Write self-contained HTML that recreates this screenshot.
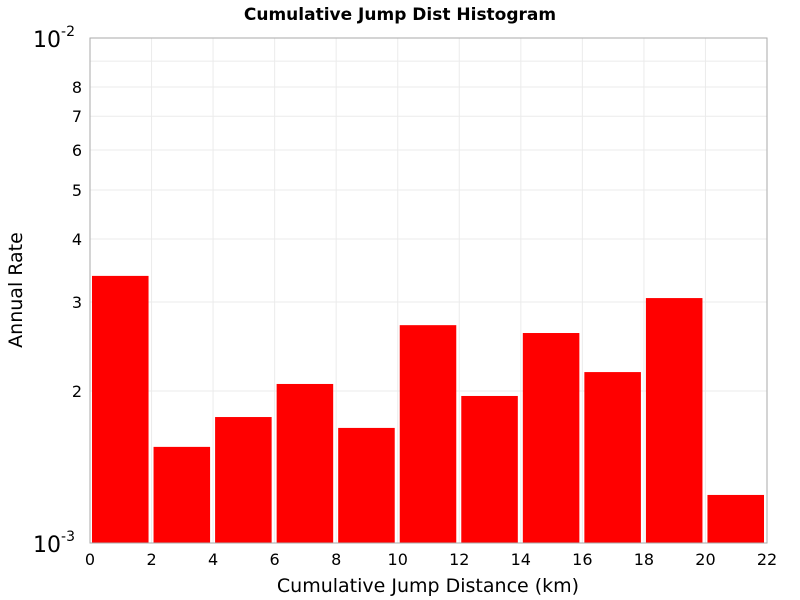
<!DOCTYPE html>
<html><head><meta charset="utf-8"><style>body{margin:0;background:#fff}svg{display:block}text{font-family:"DejaVu Sans","Liberation Sans",sans-serif}</style></head>
<body>
<svg id="chart" width="800" height="600">
<rect x="0" y="0" width="800" height="600" fill="#fff"/>
<text x="400" y="20" text-anchor="middle" font-size="17" font-weight="bold">Cumulative Jump Dist Histogram</text>
<text x="428" y="592" text-anchor="middle" font-size="19">Cumulative Jump Distance (km)</text>
<text transform="translate(22,290) rotate(-90)" text-anchor="middle" font-size="19">Annual Rate</text>
<g id="grid"></g><g id="bars"></g><g id="axes"></g>
</svg>
<script>
const binStarts=[0,2,4,6,8,10,12,14,16,18,20];
const binWidth=2;
const rates=[3.38e-3,1.55e-3,1.776e-3,2.065e-3,1.69e-3,2.70e-3,1.955e-3,2.605e-3,2.18e-3,3.055e-3,1.245e-3];
const xTicks=[0,2,4,6,8,10,12,14,16,18,20,22];
const yMinor=[2,3,4,5,6,7,8,9];
const yMinorLabels=["2","3","4","5","6","7","8",""];
const L=90,R=767,T=38,B=543;
const ns="http://www.w3.org/2000/svg";
const xs=v=>L+(v-0)/(22-0)*(R-L);
const ys=v=>B-(Math.log10(v)+3)*(B-T);
function mk(tag,attrs,parent,text){const e=document.createElementNS(ns,tag);for(const k in attrs)e.setAttribute(k,attrs[k]);if(text!==undefined)e.textContent=text;parent.appendChild(e);return e;}
const grid=document.getElementById('grid'),bars=document.getElementById('bars'),axes=document.getElementById('axes');
xTicks.forEach(t=>{const g=mk('line',{x1:xs(t),x2:xs(t),y1:T,y2:B,stroke:'#ebebeb'},grid);


const tl=mk('text',{x:xs(t),y:B+22,'text-anchor':'middle','font-size':'16'},axes,String(t));

});
yMinor.forEach((m,i)=>{const y=ys(m*1e-3);const g=mk('line',{x1:L,x2:R,y1:y,y2:y,stroke:'#ebebeb'},grid);


if(yMinorLabels[i]){const tl=mk('text',{x:L-8,y:y+6,'text-anchor':'end','font-size':'16'},axes,yMinorLabels[i]);

}});
[[T,'-2'],[B,'-3']].forEach(([y,e])=>{const t=mk('text',{x:L-36,y:y+9,'text-anchor':'middle','font-size':'22'},axes);


mk('tspan',{},t,'10');mk('tspan',{dy:'-11','font-size':'14'},t,e);});
binStarts.forEach((s,i)=>{const x0=xs(s)+2,x1=xs(s+binWidth)-3,y=ys(rates[i]);
const r=mk('rect',{x:x0,y:y,width:x1-x0,height:B-y,fill:'#ff0000'},bars);

});
const f=mk('rect',{x:L,y:T,width:R-L,height:B-T,fill:'none',stroke:'#aaa'},axes);


</script>
</body></html>
